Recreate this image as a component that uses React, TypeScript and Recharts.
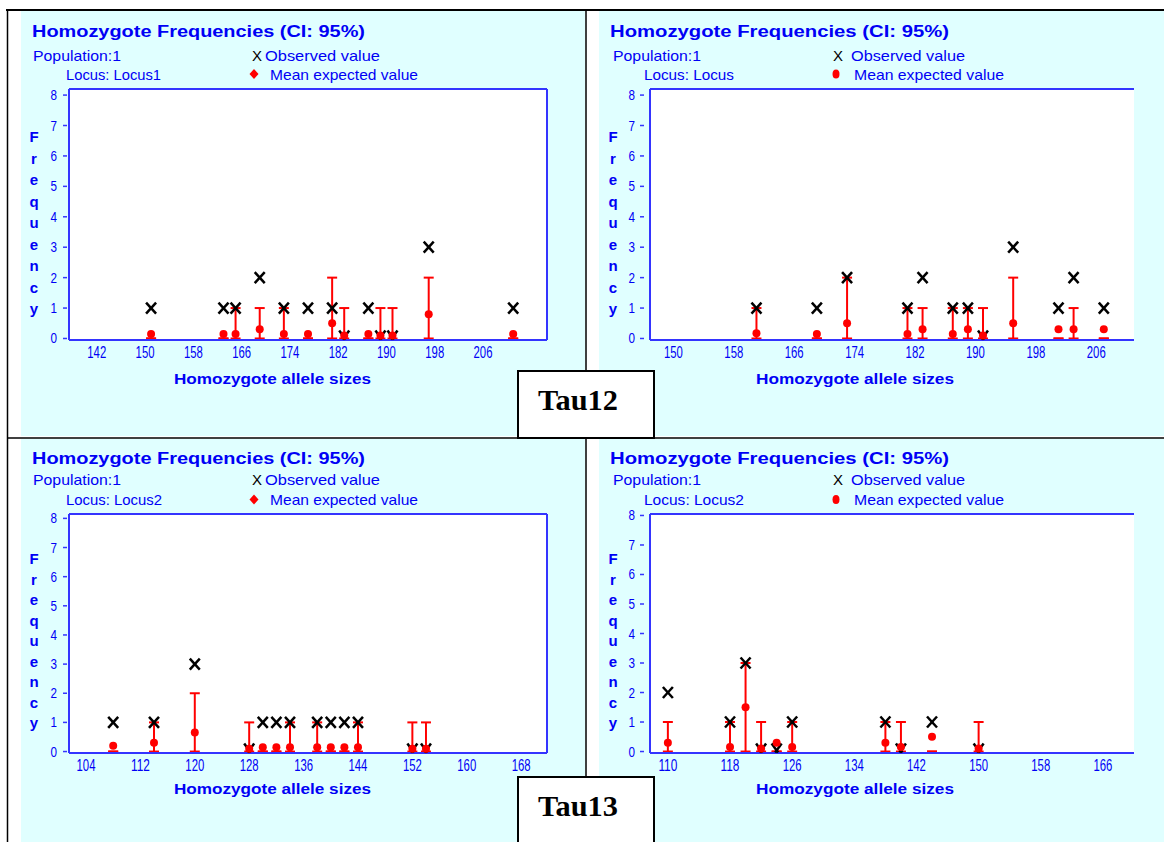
import React from 'react';
import { ComposedChart, Scatter, XAxis, YAxis, CartesianGrid, ErrorBar, ReferenceLine } from 'recharts';

// Tau12, Locus1
const tau12aSizes = [151, 163, 165, 169, 173, 177, 181, 183, 187, 189, 191, 197, 211];
const tau12aObserved = [1, 1, 1, 2, 1, 1, 1, 0, 1, 0, 0, 3, 1];
const tau12aMean = [0.15, 0.15, 0.15, 0.3, 0.15, 0.15, 0.5, 0.1, 0.15, 0.1, 0.1, 0.8, 0.15];
const tau12aLower = [0, 0, 0, 0, 0, 0, 0, 0, 0, 0, 0, 0, 0];
const tau12aUpper = [0, 0, 1, 1, 1, 0, 2, 1, 0, 1, 1, 2, 0];
const tau12aTicks = [142, 150, 158, 166, 174, 182, 190, 198, 206];

// Tau12, second locus
const tau12bSizes = [161, 169, 173, 181, 183, 187, 189, 191, 195, 201, 203, 207];
const tau12bObserved = [1, 1, 2, 1, 2, 1, 1, 0, 3, 1, 2, 1];
const tau12bMean = [0.17, 0.15, 0.5, 0.15, 0.3, 0.15, 0.3, 0.1, 0.5, 0.3, 0.3, 0.3];
const tau12bLower = [0, 0, 0, 0, 0, 0, 0, 0, 0, 0, 0, 0];
const tau12bUpper = [1, 0, 2, 1, 1, 1, 1, 1, 2, 0, 1, 0];
const tau12bTicks = [150, 158, 166, 174, 182, 190, 198, 206];

// Tau13, Locus2 (left)
const tau13aSizes = [108, 114, 120, 128, 130, 132, 134, 138, 140, 142, 144, 152, 154];
const tau13aObserved = [1, 1, 3, 0, 1, 1, 1, 1, 1, 1, 1, 0, 0];
const tau13aMean = [0.2, 0.3, 0.65, 0.1, 0.15, 0.15, 0.15, 0.15, 0.15, 0.15, 0.15, 0.1, 0.1];
const tau13aLower = [0, 0, 0, 0, 0, 0, 0, 0, 0, 0, 0, 0, 0];
const tau13aUpper = [0, 1, 2, 1, 0, 0, 1, 1, 0, 0, 1, 1, 1];
const tau13aTicks = [104, 112, 120, 128, 136, 144, 152, 160, 168];

// Tau13, Locus2 (right)
const tau13bSizes = [110, 118, 120, 122, 124, 126, 138, 140, 144, 150];
const tau13bObserved = [2, 1, 3, 0, 0, 1, 1, 0, 1, 0];
const tau13bMean = [0.3, 0.15, 1.5, 0.1, 0.3, 0.15, 0.3, 0.15, 0.5, 0.1];
const tau13bLower = [0, 0, 0, 0, 0, 0, 0, 0, 0, 0];
const tau13bUpper = [1, 1, 3, 1, 0, 1, 1, 1, 0, 1];
const tau13bTicks = [110, 118, 126, 134, 142, 150, 158, 166];

const freqTicks = [0, 1, 2, 3, 4, 5, 6, 7, 8];
const freqLetters = ['F', 'r', 'e', 'q', 'u', 'e', 'n', 'c', 'y'];

const BLUE = '#0000f5';
const AXIS = '#3434ff';
const RED = '#ff0000';
const CYAN = '#e0ffff';
const SANS = '"Liberation Sans", Arial, sans-serif';
const SERIF = '"Liberation Serif", "Times New Roman", serif';

const M_TOP = 10;
const M_LEFT = 10;
const Y_W = 30;
const X_H = 30;
const M_RIGHT = 20;
// zero sits just above the axis line
const Y_FLOOR = -0.05;

const COLS = [
  {
    plotLeft: 69, plotRight: 547, boxed: true, tickGap: 12, dashFrom: 6, dashTo: 2,
    titleX: 32, titleLen: 333, popX: 33, popLen: 88, locusX: 66,
    obsX: 252, obsTextX: 265, obsLen: 115, markX: 254, meanX: 270, meanLen: 148,
    freqX: 34, axisTitleX: 174, axisTitleLen: 197, diamond: true,
  },
  {
    plotLeft: 650, plotRight: 1134, boxed: false, tickGap: 15, dashFrom: 10, dashTo: 6,
    titleX: 610, titleLen: 339, popX: 613, popLen: 88, locusX: 644,
    obsX: 833, obsTextX: 851, obsLen: 114, markX: 836, meanX: 854, meanLen: 150,
    freqX: 613, axisTitleX: 756, axisTitleLen: 198, diamond: false,
  },
];

const ROWS = [
  { plotTop: 89, plotBottom: 340, titleY: 37, popY: 60.5, locusY: 80, markY: 74, axisTitleY: 383.5 },
  { plotTop: 514, plotBottom: 753, titleY: 464, popY: 485, locusY: 505, markY: 499.5, axisTitleY: 794 },
];

const PANELS = [
  { col: 0, row: 0, locus: 'Locus: Locus1', locusLen: 95, sizes: tau12aSizes, observed: tau12aObserved, mean: tau12aMean, lower: tau12aLower, upper: tau12aUpper, ticks: tau12aTicks, xDomain: [137.4, 216.6], yMax: 8.2 },
  { col: 1, row: 0, locus: 'Locus: Locus', locusLen: 90, sizes: tau12bSizes, observed: tau12bObserved, mean: tau12bMean, lower: tau12bLower, upper: tau12bUpper, ticks: tau12bTicks, xDomain: [146.9, 211], yMax: 8.2 },
  { col: 0, row: 1, locus: 'Locus: Locus2', locusLen: 96, sizes: tau13aSizes, observed: tau13aObserved, mean: tau13aMean, lower: tau13aLower, upper: tau13aUpper, ticks: tau13aTicks, xDomain: [101.5, 171.8], yMax: 8.15 },
  { col: 1, row: 1, locus: 'Locus: Locus2', locusLen: 100, sizes: tau13bSizes, observed: tau13bObserved, mean: tau13bMean, lower: tau13bLower, upper: tau13bUpper, ticks: tau13bTicks, xDomain: [107.7, 170], yMax: 8.05 },
];

const drawObserved = (p: any) => {
  const { cx, cy } = p;
  if (p.payload.observed === 0) {
    // lower half hidden by the axis, leaves a V
    return (
      <g stroke="#000" strokeWidth={2.5}>
        <line x1={cx - 5} y1={cy - 8} x2={cx + 1.5} y2={cy + 1} />
        <line x1={cx + 5} y1={cy - 8} x2={cx - 1.5} y2={cy + 1} />
      </g>
    );
  }
  return (
    <g stroke="#000" strokeWidth={2.5}>
      <line x1={cx - 5} y1={cy - 5.5} x2={cx + 5} y2={cy + 5.5} />
      <line x1={cx + 5} y1={cy - 5.5} x2={cx - 5} y2={cy + 5.5} />
    </g>
  );
};

const drawMean = (p: any) => <circle cx={p.cx} cy={p.cy} r={4} fill={RED} />;

function Panel({ panel }: { panel: any }) {
  const col = COLS[panel.col];
  const row = ROWS[panel.row];
  const plotW = col.plotRight - col.plotLeft;
  const plotH = row.plotBottom - row.plotTop;
  const axisX = M_LEFT + Y_W;
  const axisY = M_TOP + plotH;

  const obsData = panel.sizes.map((size: number, i: number) => ({ size, observed: panel.observed[i] }));
  const expData = panel.sizes.map((size: number, i: number) => ({
    size,
    mean: panel.mean[i],
    ci: [panel.mean[i] - panel.lower[i], panel.upper[i] - panel.mean[i]],
  }));

  const YTick = (p: any) => (
    <g>
      <text x={axisX - col.tickGap} y={p.y + 5} textAnchor="end" fontSize={15} fontFamily={SANS} fill={BLUE}
        textLength={6.5} lengthAdjust="spacingAndGlyphs">{p.payload.value}</text>
      <line x1={axisX - col.dashFrom} x2={axisX - col.dashTo} y1={p.y} y2={p.y} stroke={AXIS} strokeWidth={1.5} />
    </g>
  );

  const XTick = (p: any) => {
    const label = String(p.payload.value);
    return (
      <text x={p.x} y={axisY + 18} textAnchor="middle" fontSize={16} fontFamily={SANS} fill={BLUE}
        textLength={label.length * 6.3} lengthAdjust="spacingAndGlyphs">{label}</text>
    );
  };

  return (
    <div style={{ position: 'absolute', left: col.plotLeft - axisX, top: row.plotTop - M_TOP }}>
      <ComposedChart width={axisX + plotW + M_RIGHT} height={M_TOP + plotH + X_H}
        margin={{ top: M_TOP, right: M_RIGHT, bottom: 0, left: M_LEFT }}>
        <CartesianGrid horizontal={false} vertical={false} fill="#ffffff" stroke="none" />
        <XAxis type="number" dataKey="size" domain={panel.xDomain} ticks={panel.ticks} interval={0}
          height={X_H} tickLine={false} axisLine={{ stroke: AXIS, strokeWidth: 2 }} tick={XTick} />
        <YAxis type="number" domain={[Y_FLOOR, panel.yMax]} ticks={freqTicks} interval={0}
          width={Y_W} tickLine={false} axisLine={{ stroke: AXIS, strokeWidth: 2 }} tick={YTick} />
        <ReferenceLine y={panel.yMax} stroke={AXIS} strokeWidth={2} />
        {col.boxed && <ReferenceLine x={panel.xDomain[1]} stroke={AXIS} strokeWidth={2} />}
        <Scatter data={obsData} dataKey="observed" shape={drawObserved} isAnimationActive={false} />
        <Scatter data={expData} dataKey="mean" shape={drawMean} isAnimationActive={false}>
          <ErrorBar dataKey="ci" direction="y" width={5} stroke={RED} strokeWidth={2} />
        </Scatter>
      </ComposedChart>
    </div>
  );
}

function PanelText({ panel }: { panel: any }) {
  const col = COLS[panel.col];
  const row = ROWS[panel.row];
  const plotH = row.plotBottom - row.plotTop;
  const k = plotH / 251;
  return (
    <g fontFamily={SANS}>
      <text x={col.titleX} y={row.titleY} fontSize={16} fontWeight="bold" fill={BLUE}
        textLength={col.titleLen} lengthAdjust="spacingAndGlyphs">Homozygote Frequencies  (CI: 95%)</text>
      <text x={col.popX} y={row.popY} fontSize={15} fill={BLUE} textLength={col.popLen}
        lengthAdjust="spacingAndGlyphs">Population:1</text>
      <text x={col.locusX} y={row.locusY} fontSize={15} fill={BLUE} textLength={panel.locusLen}
        lengthAdjust="spacingAndGlyphs">{panel.locus}</text>
      <text x={col.obsX} y={row.popY} fontSize={15} fill="#000">X</text>
      <text x={col.obsTextX} y={row.popY} fontSize={15} fill={BLUE} textLength={col.obsLen}
        lengthAdjust="spacingAndGlyphs">Observed value</text>
      {col.diamond ? (
        <path d={`M${col.markX} ${row.markY - 5} L${col.markX + 4.5} ${row.markY} L${col.markX} ${row.markY + 5} L${col.markX - 4.5} ${row.markY} Z`} fill={RED} />
      ) : (
        <ellipse cx={col.markX} cy={row.markY} rx={3.5} ry={4.5} fill={RED} />
      )}
      <text x={col.meanX} y={row.locusY} fontSize={15} fill={BLUE} textLength={col.meanLen}
        lengthAdjust="spacingAndGlyphs">Mean expected value</text>
      {freqLetters.map((ch, i) => (
        <text key={i} x={col.freqX} y={row.plotTop + (53 + i * 21.5) * k} textAnchor="middle"
          fontSize={15} fontWeight="bold" fill={BLUE}>{ch}</text>
      ))}
      <text x={col.axisTitleX} y={row.axisTitleY} fontSize={15} fontWeight="bold" fill={BLUE}
        textLength={col.axisTitleLen} lengthAdjust="spacingAndGlyphs">Homozygote allele sizes</text>
    </g>
  );
}

export default function App() {
  return (
    <div style={{ position: 'absolute', left: 0, top: 0, width: 1164, height: 842, background: '#fff', overflow: 'hidden' }}>
      <svg width={1164} height={842} style={{ position: 'absolute', left: 0, top: 0 }}>
        <rect x={21} y={11} width={564} height={425} fill={CYAN} />
        <rect x={599} y={11} width={565} height={425} fill={CYAN} />
        <rect x={21} y={439} width={564} height={403} fill={CYAN} />
        <rect x={599} y={439} width={565} height={403} fill={CYAN} />
        {PANELS.map((p, i) => <PanelText key={i} panel={p} />)}
      </svg>
      {PANELS.map((p, i) => <Panel key={i} panel={p} />)}
      <svg width={1164} height={842} style={{ position: 'absolute', left: 0, top: 0, pointerEvents: 'none' }}>
        <line x1={6} x2={1164} y1={10} y2={10} stroke="#000" strokeWidth={2} />
        <line x1={7.5} x2={7.5} y1={9} y2={842} stroke="#000" strokeWidth={1.5} />
        <line x1={586} x2={586} y1={9} y2={842} stroke="#000" strokeWidth={1.5} />
        <line x1={7} x2={1164} y1={438} y2={438} stroke="#000" strokeWidth={1.5} />
        <rect x={518} y={371} width={136} height={67} fill="#fff" stroke="#000" strokeWidth={2} />
        <text x={538} y={410} fontFamily={SERIF} fontWeight="bold" fontSize={29} fill="#000"
          textLength={80} lengthAdjust="spacingAndGlyphs">Tau12</text>
        <rect x={518} y={777} width={136} height={80} fill="#fff" stroke="#000" strokeWidth={2} />
        <text x={538} y={816} fontFamily={SERIF} fontWeight="bold" fontSize={29} fill="#000"
          textLength={80} lengthAdjust="spacingAndGlyphs">Tau13</text>
      </svg>
    </div>
  );
}
